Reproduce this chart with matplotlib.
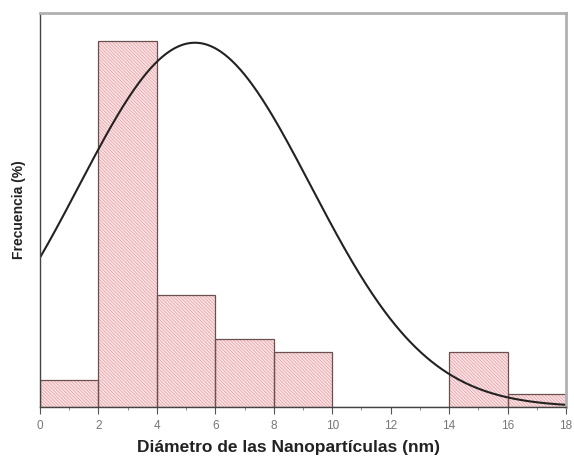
import numpy as np
import matplotlib
matplotlib.use("Agg")
import matplotlib.pyplot as plt
from matplotlib.ticker import MultipleLocator

# histogram of particle diameters (bin edges in nm, frequency in %)
bin_left = [0, 2, 4, 6, 8, 10, 12, 14, 16]
bin_width = 2
frecuencia = [3.9, 52.9, 16.2, 9.9, 7.9, 0.0, 0.0, 7.9, 1.9]

# gaussian fit parameters
fit_xc = 5.3
fit_w = 3.97
fit_amp = 52.7

plt.rcParams['font.family'] = ['Liberation Sans', 'DejaVu Sans']
plt.rcParams['hatch.linewidth'] = 0.5

fig = plt.figure(figsize=(5.74, 4.61), dpi=100)
ax = fig.add_axes([0.0697, 0.1171, 0.9164, 0.8547])

# hatched pink fill, then the outlines on top
ax.bar(bin_left, frecuencia, width=bin_width, align='edge',
       color='#fde3e5', edgecolor='#e09ca2', hatch='\\' * 10, linewidth=0)
ax.bar(bin_left, frecuencia, width=bin_width, align='edge',
       fill=False, edgecolor='#6b5050', linewidth=0.9)

xs = np.linspace(0, 18, 400)
ys = fit_amp * np.exp(-(xs - fit_xc) ** 2 / (2 * fit_w ** 2))
ax.plot(xs, ys, color='#222222', lw=1.5)

ax.set_xlim(0, 18)
ax.set_ylim(0, 57)
ax.xaxis.set_major_locator(MultipleLocator(2))
ax.xaxis.set_minor_locator(MultipleLocator(1))
ax.set_yticks([])
ax.tick_params(axis='x', which='major', length=5, width=0.8, color='#555555',
               labelsize=8.5, labelcolor='#777777', pad=4)
ax.tick_params(axis='x', which='minor', length=2, width=0.6, color='#777777')

for side in ('left', 'bottom'):
    ax.spines[side].set_color('#444444')
    ax.spines[side].set_linewidth(1.0)
for side in ('top', 'right'):
    ax.spines[side].set_color('#b0b0b0')
    ax.spines[side].set_linewidth(2.0)

ax.set_xlabel('Diámetro de las Nanopartículas (nm)', fontsize=12.5,
              fontweight='bold', color='#222222')
ax.set_ylabel('Frecuencia (%)', fontsize=10, fontweight='bold',
              color='#222222', labelpad=10)
ax.xaxis.set_label_coords(0.473, -0.083)

fig.savefig('out.png', dpi=100)
